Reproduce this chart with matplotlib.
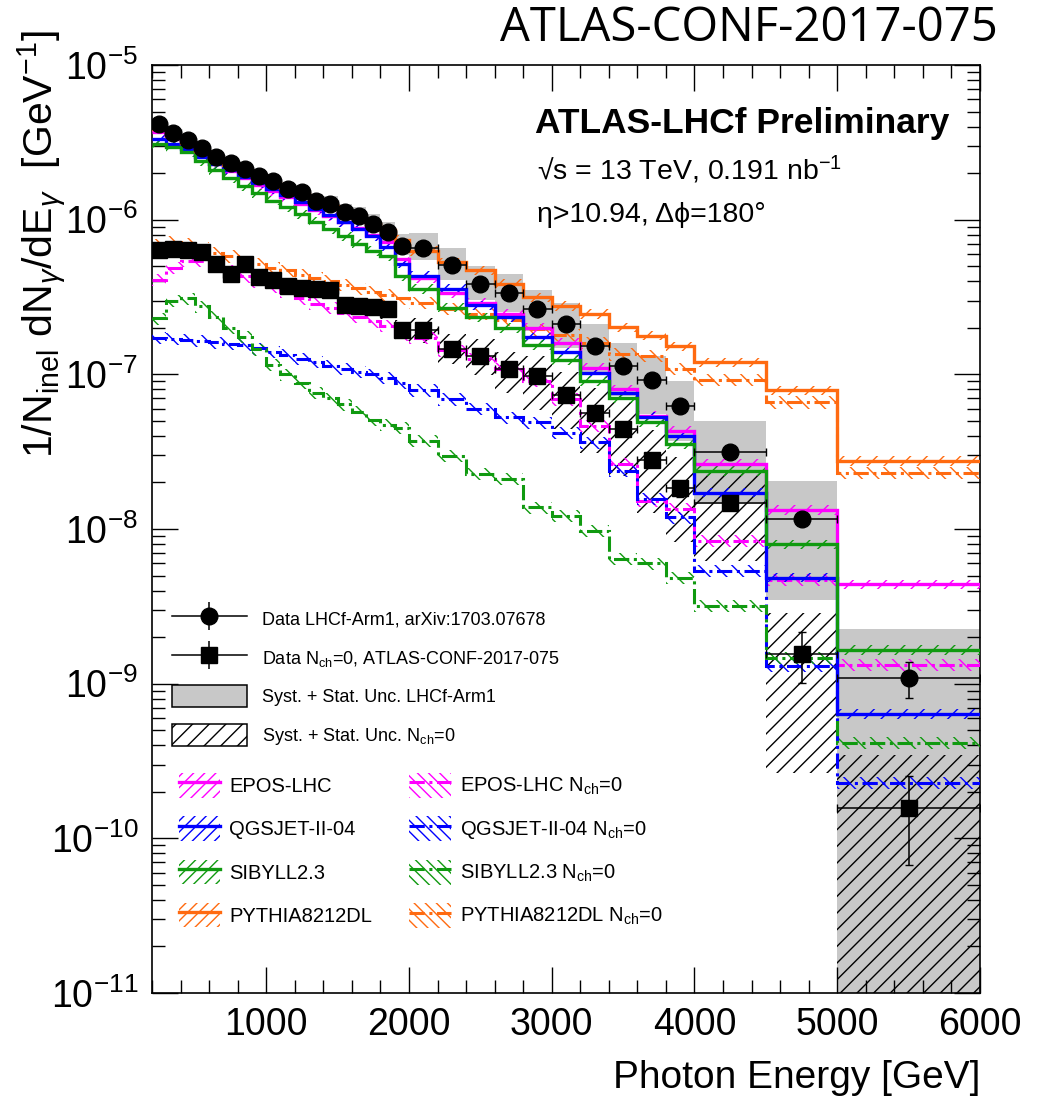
import matplotlib
matplotlib.use("Agg")
import matplotlib.pyplot as plt
import numpy as np
from matplotlib.patches import Patch
from matplotlib.lines import Line2D
from matplotlib.ticker import FixedLocator, MultipleLocator, LogLocator, NullFormatter

plt.rcParams['font.family'] = ['Liberation Sans', 'DejaVu Sans']
plt.rcParams['mathtext.fontset'] = 'custom'
plt.rcParams['mathtext.rm'] = 'Liberation Sans'
plt.rcParams['mathtext.it'] = 'Liberation Sans:italic'
plt.rcParams['mathtext.bf'] = 'Liberation Sans:bold'
plt.rcParams['hatch.linewidth'] = 1.0

# bin edges [GeV]
energy_edges = [200, 300, 400, 500, 600, 700, 800, 900, 1000, 1100, 1200, 1300,
                1400, 1500, 1600, 1700, 1800, 1900, 2000, 2200, 2400, 2600, 2800,
                3000, 3200, 3400, 3600, 3800, 4000, 4500, 5000, 6000]

# data, LHCf-Arm1 inclusive
lhcf = [4.17e-6, 3.63e-6, 3.26e-6, 2.90e-6, 2.54e-6, 2.32e-6, 2.13e-6, 1.93e-6,
        1.79e-6, 1.58e-6, 1.51e-6, 1.32e-6, 1.27e-6, 1.12e-6, 1.06e-6, 9.4e-7,
        8.3e-7, 6.8e-7, 6.6e-7, 5.1e-7, 3.85e-7, 3.37e-7, 2.63e-7, 2.12e-7,
        1.53e-7, 1.14e-7, 9.2e-8, 6.2e-8, 3.16e-8, 1.16e-8, 1.08e-9]
lhcf_stat_up = [0.02]*28 + [0.04, 0.05, 0.27]
lhcf_stat_dn = [0.02]*28 + [0.04, 0.05, 0.25]
lhcf_sys_up = [0.08, 0.08, 0.08, 0.08, 0.08, 0.08, 0.09, 0.09, 0.09, 0.10, 0.10,
               0.11, 0.12, 0.13, 0.14, 0.15, 0.16, 0.18, 0.25, 0.28, 0.30, 0.32,
               0.34, 0.36, 0.38, 0.40, 0.42, 0.47, 0.59, 0.76, 1.08]
lhcf_sys_dn = [0.07, 0.07, 0.07, 0.07, 0.07, 0.07, 0.08, 0.08, 0.08, 0.08, 0.09,
               0.09, 0.10, 0.10, 0.11, 0.11, 0.12, 0.13, 0.17, 0.20, 0.22, 0.25,
               0.28, 0.30, 0.33, 0.36, 0.40, 0.40, 0.54, 0.70, 1.00]

# data, Nch = 0
nch0 = [6.32e-7, 6.5e-7, 6.4e-7, 6.2e-7, 5.2e-7, 4.45e-7, 5.2e-7, 4.25e-7,
        4.1e-7, 3.7e-7, 3.62e-7, 3.55e-7, 3.5e-7, 2.82e-7, 2.78e-7, 2.72e-7,
        2.66e-7, 1.94e-7, 1.94e-7, 1.46e-7, 1.32e-7, 1.08e-7, 9.8e-8, 7.4e-8,
        5.6e-8, 4.4e-8, 2.8e-8, 1.83e-8, 1.48e-8, 1.56e-9, 1.57e-10]
nch0_stat_up = [0.03]*26 + [0.08, 0.12, 0.08, 0.38, 0.60]
nch0_stat_dn = [0.03]*26 + [0.08, 0.12, 0.08, 0.35, 0.57]
nch0_sys_up = [0.08, 0.08, 0.08, 0.08, 0.09, 0.09, 0.09, 0.10, 0.10, 0.10, 0.11,
               0.11, 0.12, 0.12, 0.13, 0.13, 0.14, 0.15, 0.20, 0.25, 0.28, 0.30,
               0.35, 0.40, 0.45, 0.50, 0.55, 0.60, 0.61, 0.84, 1.20]
nch0_sys_dn = [0.08, 0.08, 0.08, 0.08, 0.09, 0.09, 0.09, 0.10, 0.10, 0.10, 0.11,
               0.11, 0.12, 0.12, 0.13, 0.13, 0.14, 0.15, 0.18, 0.20, 0.25, 0.30,
               0.40, 0.40, 0.45, 0.50, 0.55, 0.55, 0.58, 0.83, 1.00]

# models, inclusive
epos = [3.68e-6, 3.3e-6, 2.95e-6, 2.6e-6, 2.3e-6, 2.05e-6, 1.85e-6, 1.68e-6,
        1.53e-6, 1.4e-6, 1.27e-6, 1.15e-6, 1.05e-6, 9.6e-7, 8.8e-7, 8.0e-7,
        7.2e-7, 5.6e-7, 4.2e-7, 3.35e-7, 2.9e-7, 2.46e-7, 2.0e-7, 1.6e-7,
        1.1e-7, 8.0e-8, 5.4e-8, 4.3e-8, 2.65e-8, 1.33e-8, 4.4e-9]
qgsjet = [3.34e-6, 3.1e-6, 2.85e-6, 2.55e-6, 2.3e-6, 2.08e-6, 1.88e-6, 1.72e-6,
          1.57e-6, 1.45e-6, 1.3e-6, 1.18e-6, 1.07e-6, 9.7e-7, 8.7e-7, 7.8e-7,
          6.7e-7, 5.2e-7, 4.35e-7, 3.56e-7, 2.8e-7, 2.34e-7, 1.74e-7, 1.39e-7,
          1.02e-7, 7.6e-8, 5.3e-8, 4.0e-8, 1.72e-8, 4.85e-9, 6.4e-10]
sibyll = [3.1e-6, 2.95e-6, 2.75e-6, 2.4e-6, 2.1e-6, 1.85e-6, 1.65e-6, 1.48e-6,
          1.33e-6, 1.2e-6, 1.08e-6, 9.7e-7, 8.7e-7, 7.8e-7, 7.0e-7, 6.3e-7,
          5.8e-7, 4.3e-7, 3.56e-7, 2.7e-7, 2.34e-7, 2.0e-7, 1.55e-7, 1.24e-7,
          9.1e-8, 7.0e-8, 4.9e-8, 3.54e-8, 2.38e-8, 7.98e-9, 1.65e-9]
pythia = [3.9e-6, 3.5e-6, 3.15e-6, 2.8e-6, 2.5e-6, 2.25e-6, 2.05e-6, 1.87e-6,
          1.72e-6, 1.6e-6, 1.47e-6, 1.33e-6, 1.22e-6, 1.12e-6, 1.02e-6, 9.4e-7,
          8.6e-7, 7.4e-7, 6.3e-7, 5.3e-7, 4.7e-7, 3.85e-7, 3.15e-7, 2.78e-7,
          2.46e-7, 2.01e-7, 1.78e-7, 1.52e-7, 1.2e-7, 7.9e-8, 2.76e-8]

# models, Nch = 0
epos_nch0 = [4.1e-7, 4.9e-7, 5.4e-7, 5.4e-7, 5.1e-7, 4.7e-7, 4.3e-7, 4.0e-7,
             3.7e-7, 3.4e-7, 3.1e-7, 2.85e-7, 2.7e-7, 2.5e-7, 2.35e-7, 2.2e-7,
             2.05e-7, 1.8e-7, 1.72e-7, 1.43e-7, 1.26e-7, 1.08e-7, 9.1e-8, 6.9e-8,
             4.66e-8, 2.63e-8, 1.52e-8, 1.35e-8, 8.4e-9, 4.7e-9, 1.33e-9]
qgsjet_nch0 = [1.72e-7, 1.7e-7, 1.67e-7, 1.64e-7, 1.61e-7, 1.58e-7, 1.55e-7, 1.47e-7,
               1.4e-7, 1.33e-7, 1.26e-7, 1.2e-7, 1.14e-7, 1.09e-7, 1.04e-7, 1.0e-7,
               9.5e-8, 8.8e-8, 7.9e-8, 6.9e-8, 5.96e-8, 5.27e-8, 4.89e-8, 4.2e-8,
               3.63e-8, 2.38e-8, 1.56e-8, 1.19e-8, 5.36e-9, 1.3e-9, 2.29e-10]
sibyll_nch0 = [2.3e-7, 3.0e-7, 3.1e-7, 2.75e-7, 2.35e-7, 2.0e-7, 1.75e-7, 1.45e-7,
               1.15e-7, 1.0e-7, 8.8e-8, 7.6e-8, 7.0e-8, 6.4e-8, 5.7e-8, 5.1e-8,
               4.7e-8, 4.5e-8, 3.72e-8, 2.98e-8, 2.27e-8, 2.1e-8, 1.38e-8, 1.22e-8,
               9.7e-9, 6.4e-9, 6.0e-9, 4.85e-9, 3.18e-9, 1.47e-9, 4.15e-10]
pythia_nch0 = [6.9e-7, 7.2e-7, 7.0e-7, 6.6e-7, 6.1e-7, 5.8e-7, 5.5e-7, 5.2e-7,
               4.9e-7, 4.7e-7, 4.4e-7, 4.2e-7, 4.0e-7, 3.8e-7, 3.6e-7, 3.4e-7,
               3.25e-7, 3.1e-7, 2.9e-7, 2.65e-7, 2.45e-7, 2.25e-7, 1.95e-7, 1.8e-7,
               1.6e-7, 1.35e-7, 1.32e-7, 1.08e-7, 9.2e-8, 6.6e-8, 2.3e-8]

model_names = ["EPOS-LHC", "QGSJET-II-04", "SIBYLL2.3", "PYTHIA8212DL"]
model_colors = ["#ff00ff", "#0000ff", "#109a10", "#ff6a10"]
models_incl = [epos, qgsjet, sibyll, pythia]
models_nch0 = [epos_nch0, qgsjet_nch0, sibyll_nch0, pythia_nch0]

x_ticks = [1000, 2000, 3000, 4000, 5000, 6000]
y_ticks = [1e-11, 1e-10, 1e-9, 1e-8, 1e-7, 1e-6, 1e-5]

edges = np.array(energy_edges, dtype=float)
centers = 0.5 * (edges[1:] + edges[:-1])
half = 0.5 * np.diff(edges)
floor = 1e-13

W, H = 1039, 1102
fig = plt.figure(figsize=(W / 100, H / 100), dpi=100)
ax = fig.add_axes([152 / W, 1 - 993 / H, (980 - 152) / W, (993 - 65) / H])
ax.set_yscale('log')
ax.set_xlim(200, 6000)
ax.set_ylim(1e-11, 1e-5)


def rel_band(vals, up, dn):
    v = np.array(vals)
    return v * (1 + np.array(up)), np.maximum(v * (1 - np.array(dn)), floor)


# uncertainty bands of the data
hi, lo = rel_band(lhcf, lhcf_sys_up, lhcf_sys_dn)
ax.stairs(hi, edges, baseline=lo, fill=True, facecolor='#c8c8c8', edgecolor='none', lw=0, zorder=1)
hi, lo = rel_band(nch0, nch0_sys_up, nch0_sys_dn)
ax.stairs(hi, edges, baseline=lo, fill=True, facecolor='none', edgecolor='black',
          hatch='//', lw=0, zorder=2)

# models
dashdot = (0, (5, 1.5, 1, 1.5))
for vals, col in zip(models_nch0, model_colors):
    hi, lo = rel_band(vals, [0.09] * len(vals), [0.09] * len(vals))
    ax.stairs(hi, edges, baseline=lo, fill=True, facecolor='none', edgecolor=col,
              hatch='\\\\', lw=0, zorder=3)
    ax.stairs(vals, edges, baseline=None, color=col, lw=2.2, ls=dashdot, zorder=4)
for vals, col in zip(models_incl, model_colors):
    hi, lo = rel_band(vals, [0.07] * len(vals), [0.07] * len(vals))
    ax.stairs(hi, edges, baseline=lo, fill=True, facecolor='none', edgecolor=col,
              hatch='//', lw=0, zorder=5)
    ax.stairs(vals, edges, baseline=None, color=col, lw=2.4, zorder=6)

# data points
lhcf_a = np.array(lhcf)
nch0_a = np.array(nch0)
ax.errorbar(centers, lhcf_a, xerr=half,
            yerr=[lhcf_a * np.array(lhcf_stat_dn), lhcf_a * np.array(lhcf_stat_up)],
            fmt='o', color='black', ms=12, elinewidth=1.1, capsize=3, zorder=10)
ax.errorbar(centers, nch0_a, xerr=half,
            yerr=[nch0_a * np.array(nch0_stat_dn), nch0_a * np.array(nch0_stat_up)],
            fmt='s', color='black', ms=12, elinewidth=1.1, capsize=3, zorder=10)

# axes style
ax.xaxis.set_major_locator(FixedLocator(x_ticks))
ax.xaxis.set_minor_locator(MultipleLocator(200))
ax.yaxis.set_major_locator(FixedLocator(y_ticks))
ax.yaxis.set_minor_locator(LogLocator(base=10, subs=np.arange(2, 10), numticks=20))
ax.yaxis.set_minor_formatter(NullFormatter())
ax.tick_params(which='both', direction='in', top=True, right=True, width=1.0, labelsize=27)
ax.tick_params(which='major', length=19, pad=10)
ax.tick_params(which='minor', length=9.5)
for s in ax.spines.values():
    s.set_linewidth(1.2)

# legends
def data_handle(marker):
    return (Line2D([], [], color='black', lw=1.1),
            Line2D([], [], marker='|', color='black', ms=20, ls='none', mew=1.1),
            Line2D([], [], marker=marker, color='black', ms=12, ls='none'))


leg1 = ax.legend(
    handles=[data_handle('o'), data_handle('s'),
             Patch(facecolor='#c8c8c8', edgecolor='black', lw=1.1),
             Patch(facecolor='white', edgecolor='black', hatch='//', lw=1.1)],
    labels=["Data LHCf-Arm1, arXiv:1703.07678",
            "Data N$_{\\rm ch}$=0, ATLAS-CONF-2017-075",
            "Syst. + Stat. Unc. LHCf-Arm1",
            "Syst. + Stat. Unc. N$_{\\rm ch}$=0"],
    loc='upper left', bbox_to_anchor=(172 / W, 1 - 608 / H), bbox_transform=fig.transFigure,
    frameon=False, fontsize=13, handlelength=4.15, handleheight=1.5, handletextpad=0.85,
    labelspacing=0.92, borderpad=0, borderaxespad=0)
ax.add_artist(leg1)

h2, l2 = [], []
for name, col in zip(model_names, model_colors):
    h2.append((Patch(facecolor='none', edgecolor=col, hatch='///', lw=0),
               Line2D([], [], color=col, lw=2.4)))
    l2.append(name)
for name, col in zip(model_names, model_colors):
    h2.append((Patch(facecolor='none', edgecolor=col, hatch='\\\\\\', lw=0),
               Line2D([], [], color=col, lw=2.2, ls=dashdot)))
    l2.append(name + " N$_{\\rm ch}$=0")
ax.legend(handles=h2, labels=l2, ncol=2, loc='upper left',
          bbox_to_anchor=(179 / W, 1 - 773 / H), bbox_transform=fig.transFigure,
          frameon=False, fontsize=14.5, handlelength=2.05, handleheight=1.5,
          handletextpad=0.45, columnspacing=1.85, labelspacing=0.93,
          borderpad=0, borderaxespad=0)

# texts
fig.text(535 / W, 1 - 124 / H, "ATLAS-LHCf Preliminary", fontsize=25.5,
         fontweight='bold', va='center')
fig.text(537 / W, 1 - 170 / H, "\u221as = 13 TeV, 0.191 nb$^{-1}$", fontsize=20.5, va='center')
fig.text(537 / W, 1 - 215 / H, "\u03b7>10.94, \u0394\u03d5=180\u00b0", fontsize=20.5, va='center')
fig.text(998 / W, 1 - 28 / H, "ATLAS-CONF-2017-075", family=['Open Sans', 'DejaVu Sans'],
         fontsize=34, ha='right', va='center')
fig.text(42 / W, 1 - 30 / H,
         "1/N$_{\\rm inel}$ dN$_{\\gamma}$/dE$_{\\gamma}$  [GeV$^{-1}$]",
         rotation=90, ha='center', va='top', fontsize=29.5)
fig.text(980 / W, 1 - 1078 / H, "Photon Energy [GeV]", ha='right', va='center', fontsize=28)

fig.savefig("out.png", dpi=100)
